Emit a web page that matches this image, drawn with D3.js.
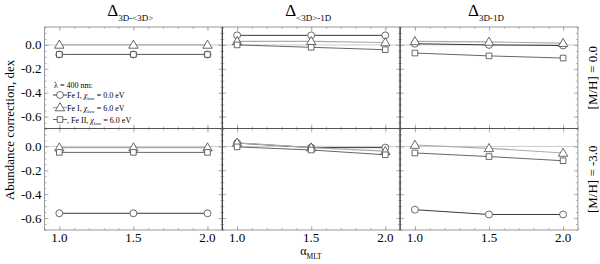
<!DOCTYPE html>
<html>
<head>
<meta charset="utf-8">
<script src="https://cdn.jsdelivr.net/npm/d3@7"></script>
<style>
	body { margin: 0; background: #fff; }
	text { font-family: 'Liberation Serif', 'DejaVu Serif', serif; }
</style>
</head>
<body>
<svg width="600" height="264"></svg>
<script>
// data
var alpha = [1.0, 1.5, 2.0];
var panelSubs = ['3D-<3D>', '<3D>-1D', '3D-1D'];
var rowLabels = ['[M/H] = 0.0', '[M/H] = -3.0'];
var yTicks = [-0.6, -0.4, -0.2, 0.0];
var xTicks = [1.0, 1.5, 2.0];

// one array per panel (left, middle, right), one value per alpha
// [M/H] = 0.0
var feI_chi0_top = [[-0.08, -0.08, -0.08], [0.08, 0.08, 0.08], [0.01, 0.0, -0.005]];
var feI_chi6_top = [[0.0, 0.0, 0.0], [0.03, 0.03, 0.02], [0.03, 0.025, 0.015]];
var feII_chi6_top = [[-0.08, -0.08, -0.08], [0.0, -0.02, -0.04], [-0.068, -0.092, -0.11]];
// [M/H] = -3.0
var feI_chi0_bot = [[-0.56, -0.56, -0.56], [0.028, -0.01, -0.01], [-0.53, -0.57, -0.57]];
var feI_chi6_bot = [[-0.01, -0.01, -0.01], [0.03, -0.01, -0.04], [0.012, -0.016, -0.055]];
var feII_chi6_bot = [[-0.05, -0.05, -0.05], [-0.004, -0.03, -0.07], [-0.055, -0.085, -0.12]];

var rows = [
	[feI_chi0_top, feI_chi6_top, feII_chi6_top],
	[feI_chi0_bot, feI_chi6_bot, feII_chi6_bot]
];

var seriesStyle = [
	{ shape: 'circle', line: '#222', width: 0.9 },
	{ shape: 'triangle', line: '#aaa', width: 1.2 },
	{ shape: 'square', line: '#666', width: 1.0 }
];

var svg = d3.select('svg');

var x0 = 44.5, pw = 177.8;
var rowTop = [27, 128.5], ph = 101.5;

var fmt = function(d) { return d.toFixed(1); };

function marker(g, shape, cx, cy, size) {
	var sym = shape === 'circle' ? d3.symbolCircle : shape === 'triangle' ? d3.symbolTriangle : d3.symbolSquare;
	g.append('path')
		.attr('d', d3.symbol().type(sym).size(size || 40)())
		.attr('transform', 'translate(' + cx + ',' + (cy + (shape === 'triangle' ? 0.6 : 0)) + ')')
		.attr('fill', '#fff')
		.attr('stroke', '#444')
		.attr('stroke-width', 0.8);
}

rows.forEach(function(rowData, r) {
	for (var c = 0; c < 3; c++) {
		var left = x0 + c * pw, top = rowTop[r];
		var x = d3.scaleLinear().domain([0.9, 2.1]).range([left, left + pw]);
		var y = d3.scaleLinear().domain([-0.7, 0.15]).range([top + ph, top]);
		var g = svg.append('g');

		// zero gridline
		g.append('line')
			.attr('x1', left).attr('x2', left + pw)
			.attr('y1', y(0)).attr('y2', y(0))
			.attr('stroke', '#ccc').attr('stroke-width', 1);

		// ticks, all inside
		var minorY = d3.range(-0.7, 0.151, 0.05);
		var minorX = d3.range(0.9, 2.101, 0.1);
		var axes = [
			[d3.axisLeft(y).tickValues(minorY).tickSize(-2), 'translate(' + left + ',0)'],
			[d3.axisLeft(y).tickValues(yTicks).tickSize(-4), 'translate(' + left + ',0)'],
			[d3.axisRight(y).tickValues(minorY).tickSize(-2), 'translate(' + (left + pw) + ',0)'],
			[d3.axisRight(y).tickValues(yTicks).tickSize(-4), 'translate(' + (left + pw) + ',0)'],
			[d3.axisBottom(x).tickValues(minorX).tickSize(-2), 'translate(0,' + (top + ph) + ')'],
			[d3.axisBottom(x).tickValues(xTicks).tickSize(-4), 'translate(0,' + (top + ph) + ')'],
			[d3.axisTop(x).tickValues(minorX).tickSize(-2), 'translate(0,' + top + ')'],
			[d3.axisTop(x).tickValues(xTicks).tickSize(-4), 'translate(0,' + top + ')']
		];
		axes.forEach(function(a) {
			var ax = g.append('g').attr('transform', a[1]).call(a[0].tickFormat(''));
			ax.select('.domain').remove();
			ax.selectAll('line').attr('stroke', '#999').attr('stroke-width', 0.7);
		});

		// tick labels
		if (c === 0) {
			g.selectAll('.yl').data(yTicks).enter().append('text')
				.attr('x', left - 3).attr('y', function(d) { return y(d) + 4.5; })
				.attr('text-anchor', 'end').attr('font-size', 13).text(fmt);
		}
		if (r === 1) {
			g.selectAll('.xl').data(xTicks).enter().append('text')
				.attr('x', function(d) { return x(d); }).attr('y', top + ph + 12)
				.attr('text-anchor', 'middle').attr('font-size', 13).text(fmt);
		}

		// series
		rowData.forEach(function(series, s) {
			var vals = series[c];
			var st = seriesStyle[s];
			g.append('path')
				.datum(vals)
				.attr('fill', 'none')
				.attr('stroke', st.line)
				.attr('stroke-width', st.width)
				.attr('d', d3.line().x(function(d, i) { return x(alpha[i]); }).y(function(d) { return y(d); }));
		});
		rowData.forEach(function(series, s) {
			series[c].forEach(function(v, i) {
				marker(g, seriesStyle[s].shape, x(alpha[i]), y(v), seriesStyle[s].shape === 'square' ? 32 : 38);
			});
		});

		// frame
		g.append('rect')
			.attr('x', left).attr('y', top).attr('width', pw).attr('height', ph)
			.attr('fill', 'none').attr('stroke', '#999').attr('stroke-width', 1);
	}
});

// darker panel dividers
[1, 2].forEach(function(c) {
	svg.append('line')
		.attr('x1', x0 + c * pw).attr('x2', x0 + c * pw)
		.attr('y1', rowTop[0]).attr('y2', rowTop[1] + ph)
		.attr('stroke', '#333').attr('stroke-width', 1);
});
svg.append('line')
	.attr('x1', x0).attr('x2', x0 + 3 * pw)
	.attr('y1', rowTop[1]).attr('y2', rowTop[1])
	.attr('stroke', '#555').attr('stroke-width', 1);

// panel titles
panelSubs.forEach(function(sub, c) {
	var t = svg.append('text')
		.attr('x', x0 + c * pw + pw / 2 - 3).attr('y', 16)
		.attr('text-anchor', 'middle');
	t.append('tspan').attr('font-size', 17).text('\u0394');
	t.append('tspan').attr('font-size', 9).attr('dy', 5).text(sub);
});

// row labels on the right
rowLabels.forEach(function(lab, r) {
	svg.append('text')
		.attr('transform', 'translate(597,' + (rowTop[r] + ph / 2) + ') rotate(-90)')
		.attr('text-anchor', 'middle').attr('font-size', 13).text(lab);
});

// axis titles
svg.append('text')
	.attr('transform', 'translate(14,130) rotate(-90)')
	.attr('text-anchor', 'middle').attr('font-size', 13)
	.text('Abundance correction, dex');

var xl = svg.append('text').attr('x', 311).attr('y', 254.5).attr('text-anchor', 'middle');
xl.append('tspan').attr('font-size', 12).text('\u03b1');
xl.append('tspan').attr('font-size', 7.5).attr('dy', 4).text('MLT');

// legend
var lg = svg.append('g');
lg.append('text').attr('x', 54).attr('y', 88).attr('font-size', 8).text('\u03bb = 400 nm:');
var legendRows = [
	['', 'Fe I, ', '0.0'],
	['', 'Fe I, ', '6.0'],
	[', ', 'Fe II, ', '6.0']
];
var legendY = [95, 107.5, 119.5];
legendRows.forEach(function(row, i) {
	var st = seriesStyle[i], yy = legendY[i];
	lg.append('line').attr('x1', 53).attr('x2', 67).attr('y1', yy).attr('y2', yy)
		.attr('stroke', st.line).attr('stroke-width', st.width);
	marker(lg, st.shape, 60, yy, st.shape === 'square' ? 32 : 38);
	var t = lg.append('text').attr('x', 67).attr('y', yy + 3).attr('font-size', 8);
	t.append('tspan').text(row[0] + ' ' + row[1]);
	t.append('tspan').attr('font-style', 'italic').text('\u03c7');
	t.append('tspan').attr('font-size', 5).attr('dy', 2).text('low');
	t.append('tspan').attr('dy', -2).text(' = ' + row[2] + ' eV');
});
</script>
</body>
</html>
